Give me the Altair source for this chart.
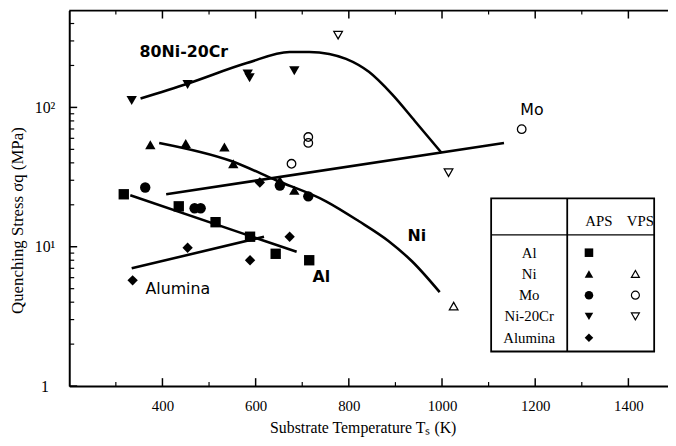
import altair as alt
import pandas as pd

# ---------------- data ----------------
# APS (filled) and VPS (open) measurements
nicr_aps_x = [334, 454, 583, 587, 683]
nicr_aps_y = [112, 146, 174, 163, 183]
nicr_vps_x = [777, 1014]
nicr_vps_y = [330, 34]
ni_aps_x = [374, 450, 533, 552, 652, 683]
ni_aps_y = [54, 55, 52, 39.4, 29.9, 25.4]
ni_vps_x = [1025]
ni_vps_y = [3.75]
mo_aps_x = [363, 469, 482, 652, 713]
mo_aps_y = [26.6, 18.9, 18.9, 27.5, 23.0]
mo_vps_x = [677, 713, 713, 1171]
mo_vps_y = [39.4, 61.3, 55.6, 69.8]
al_aps_x = [317, 435, 514, 588, 643, 715]
al_aps_y = [23.8, 19.5, 15.0, 11.8, 8.9, 8.0]
alumina_aps_x = [336, 454, 588, 609, 673]
alumina_aps_y = [5.74, 9.84, 8.0, 28.9, 11.8]

# trend curves
nicr_curve_x = [353, 454, 581, 673, 715, 758, 794, 843, 893, 942, 999]
nicr_curve_y = [116, 148, 208, 250, 250, 242, 223, 180, 124, 79.6, 47.2]
ni_curve_x = [393, 546, 645, 751, 821, 885, 936, 995]
ni_curve_y = [55.6, 41.4, 29.9, 21.2, 15.3, 11.0, 7.83, 4.72]
mo_line_x = [408, 1133]
mo_line_y = [23.8, 55.6]
al_line_x = [331, 688]
al_line_y = [23.4, 9.2]
alumina_line_x = [334, 618]
alumina_line_y = [7.0, 11.8]

# curve labels
bold_labels = ["80Ni-20Cr", "Ni", "Al"]
bold_label_x = [446, 946, 741]
bold_label_y = [250, 12.0, 6.03]
plain_labels = ["Mo", "Alumina"]
plain_label_x = [1193, 433]
plain_label_y = [95, 4.96]

# legend table
materials = ["Al", "Ni", "Mo", "Ni-20Cr", "Alumina"]
aps_shapes = ["square", "triangle-up", "circle", "triangle-down", "diamond"]
vps_shapes = [None, "triangle-up", "circle", "triangle-down", None]

# axis ticks
x_major = [400, 600, 800, 1000, 1200, 1400]
x_minor = [300, 500, 700, 900, 1100, 1300]
y_major = [1, 10, 100]
y_minor = [m * d for d in (1, 10, 100) for m in range(2, 10) if m * d < 495]

# ---------------- build tables ----------------
shape_map = dict(zip(materials, aps_shapes))


def pts(xs, ys, mat, proc):
    return pd.DataFrame({"x": xs, "y": ys, "mat": mat, "proc": proc})


aps_df = pd.concat([
    pts(al_aps_x, al_aps_y, "Al", "APS"),
    pts(ni_aps_x, ni_aps_y, "Ni", "APS"),
    pts(mo_aps_x, mo_aps_y, "Mo", "APS"),
    pts(nicr_aps_x, nicr_aps_y, "Ni-20Cr", "APS"),
    pts(alumina_aps_x, alumina_aps_y, "Alumina", "APS"),
])
aps_df["shape"] = aps_df["mat"].map(shape_map)
vps_df = pd.concat([
    pts(ni_vps_x, ni_vps_y, "Ni", "VPS"),
    pts(mo_vps_x, mo_vps_y, "Mo", "VPS"),
    pts(nicr_vps_x, nicr_vps_y, "Ni-20Cr", "VPS"),
])
vps_df["shape"] = vps_df["mat"].map(shape_map)

curves = []
for name, xs, ys in [("nicr", nicr_curve_x, nicr_curve_y), ("ni", ni_curve_x, ni_curve_y),
                     ("mo", mo_line_x, mo_line_y), ("al", al_line_x, al_line_y),
                     ("alumina", alumina_line_x, alumina_line_y)]:
    curves.append(pd.DataFrame({"x": xs, "y": ys, "curve": name, "order": range(len(xs))}))
curve_df = pd.concat(curves)

bold_df = pd.DataFrame({"x": bold_label_x, "y": bold_label_y, "t": bold_labels})
plain_df = pd.DataFrame({"x": plain_label_x, "y": plain_label_y, "t": plain_labels})

# ---------------- scales / axes ----------------
xs = alt.Scale(domain=[200, 1485], nice=False, zero=False)
ys = alt.Scale(type="log", domain=[1, 495], nice=False)
serif = "Liberation Serif"
sans = "DejaVu Sans"

x_axis = alt.Axis(values=x_major, format="d", tickSize=0, labelPadding=13,
                  labelFont=serif, labelFontSize=15, labelColor="black",
                  title="Substrate  Temperature Tₛ (K)", titleFont=serif,
                  titleFontSize=16, titleFontWeight="normal", titleColor="black",
                  titleX=297, titleY=42, titleBaseline="middle",
                  domainColor="black", domainWidth=2, grid=False, labelFlush=False)
y_axis = alt.Axis(values=y_major,
                  labelExpr="datum.value == 1 ? '1' : (datum.value == 10 ? '10¹' : '10²')",
                  labelAlign="center", labelBaseline="middle", labelPadding=25, tickSize=0,
                  labelFont=serif, labelFontSize=16, labelColor="black",
                  title="Quenching  Stress  σq  (MPa)", titleFont=serif, titleFontSize=17,
                  titleFontWeight="normal", titleColor="black", titleAngle=270,
                  titleX=-52, titleY=212, titleAlign="center", titleBaseline="middle",
                  domainColor="black", domainWidth=2, grid=False)

X = lambda f="x": alt.X(f"{f}:Q", scale=xs, axis=x_axis)
Y = lambda f="y": alt.Y(f"{f}:Q", scale=ys, axis=y_axis)

curve_layer = alt.Chart(curve_df).mark_line(color="black", strokeWidth=2.6, interpolate="monotone").encode(
    x=X(), y=Y(), detail="curve:N", order="order:Q")

aps_layer = alt.Chart(aps_df).mark_point(filled=True, color="black", opacity=1, size=110).encode(
    x=X(), y=Y(), shape=alt.Shape("shape:N", scale=None))
vps_layer = alt.Chart(vps_df).mark_point(filled=False, color="black", opacity=1, size=75, strokeWidth=1.3).encode(
    x=X(), y=Y(), shape=alt.Shape("shape:N", scale=None))

bold_layer = alt.Chart(bold_df).mark_text(font=sans, fontSize=16, fontWeight="bold", color="black").encode(
    x=X(), y=Y(), text="t:N")
plain_layer = alt.Chart(plain_df).mark_text(font=sans, fontSize=16, color="black").encode(
    x=X(), y=Y(), text="t:N")

# ticks (inward)
yt_major = alt.Chart(pd.DataFrame({"y": y_major})).mark_rule(color="black", strokeWidth=1.5).encode(
    y=Y(), x=alt.value(0), x2=alt.value(8))
yt_minor = alt.Chart(pd.DataFrame({"y": y_minor})).mark_rule(color="black", strokeWidth=1.2).encode(
    y=Y(), x=alt.value(0), x2=alt.value(5))
xt_major_b = alt.Chart(pd.DataFrame({"x": x_major})).mark_rule(color="black", strokeWidth=1.5).encode(
    x=X(), y=alt.value(380), y2=alt.value(372))
xt_minor_b = alt.Chart(pd.DataFrame({"x": x_minor})).mark_rule(color="black", strokeWidth=1.2).encode(
    x=X(), y=alt.value(380), y2=alt.value(376))
xt_major_t = alt.Chart(pd.DataFrame({"x": x_major})).mark_rule(color="black", strokeWidth=1.5).encode(
    x=X(), y=alt.value(0), y2=alt.value(8))
xt_minor_t = alt.Chart(pd.DataFrame({"x": x_minor})).mark_rule(color="black", strokeWidth=1.2).encode(
    x=X(), y=alt.value(0), y2=alt.value(4))
top_line = alt.Chart(pd.DataFrame({"x": [0]})).mark_rule(color="black", strokeWidth=2).encode(
    x=alt.value(0), x2=alt.value(606), y=alt.value(0))

# ---------------- legend table (pixel layout) ----------------
L, R, T, B = 427, 592, 190, 345
VDIV, HDIV = 504, 227
row_y = [245 + 21.5 * i for i in range(len(materials))]
label_cx, aps_cx, vps_cx = 465.5, 526, 573

box = alt.Chart(pd.DataFrame({"a": [0]})).mark_rect(fill="white", stroke="black", strokeWidth=1.8).encode(
    x=alt.value(L), x2=alt.value(R), y=alt.value(T), y2=alt.value(B))
vdiv = alt.Chart(pd.DataFrame({"a": [0]})).mark_rule(color="black", strokeWidth=1.8).encode(
    x=alt.value(VDIV), y=alt.value(T), y2=alt.value(B))
hdiv = alt.Chart(pd.DataFrame({"a": [0]})).mark_rule(color="black", strokeWidth=1.2).encode(
    x=alt.value(L), x2=alt.value(R), y=alt.value(HDIV))

leg_text_df = pd.DataFrame({"px": [label_cx] * len(materials) + [536, 578],
                            "py": row_y + [213, 213],
                            "t": materials + ["APS", "VPS"]})
leg_text = alt.Chart(leg_text_df).mark_text(font=serif, fontSize=15, color="black", baseline="middle").encode(
    x=alt.X("px:Q", scale=None, axis=None), y=alt.Y("py:Q", scale=None, axis=None), text="t:N")

aps_leg_df = pd.DataFrame({"px": [aps_cx] * len(materials), "py": row_y, "shape": aps_shapes})
aps_leg = alt.Chart(aps_leg_df).mark_point(filled=True, color="black", opacity=1, size=75).encode(
    x=alt.X("px:Q", scale=None, axis=None), y=alt.Y("py:Q", scale=None, axis=None),
    shape=alt.Shape("shape:N", scale=None))
vps_rows = [(r, s) for r, s in zip(row_y, vps_shapes) if s]
vps_leg_df = pd.DataFrame({"px": [vps_cx] * len(vps_rows), "py": [r for r, _ in vps_rows],
                           "shape": [s for _, s in vps_rows]})
vps_leg = alt.Chart(vps_leg_df).mark_point(filled=False, color="black", opacity=1, size=65, strokeWidth=1.2).encode(
    x=alt.X("px:Q", scale=None, axis=None), y=alt.Y("py:Q", scale=None, axis=None),
    shape=alt.Shape("shape:N", scale=None))

chart = alt.layer(
    curve_layer, aps_layer, vps_layer, bold_layer, plain_layer,
    yt_major, yt_minor, xt_major_b, xt_minor_b, xt_major_t, xt_minor_t, top_line,
    box, vdiv, hdiv, leg_text, aps_leg, vps_leg,
).properties(
    width=606, height=380,
    autosize=alt.AutoSizeParams(type="none"),
    padding={"left": 62, "top": 0, "right": 0, "bottom": 58},
    background="white",
).configure_view(stroke=None)

chart.save("out.html", embed_options={"renderer": "svg", "actions": False})
